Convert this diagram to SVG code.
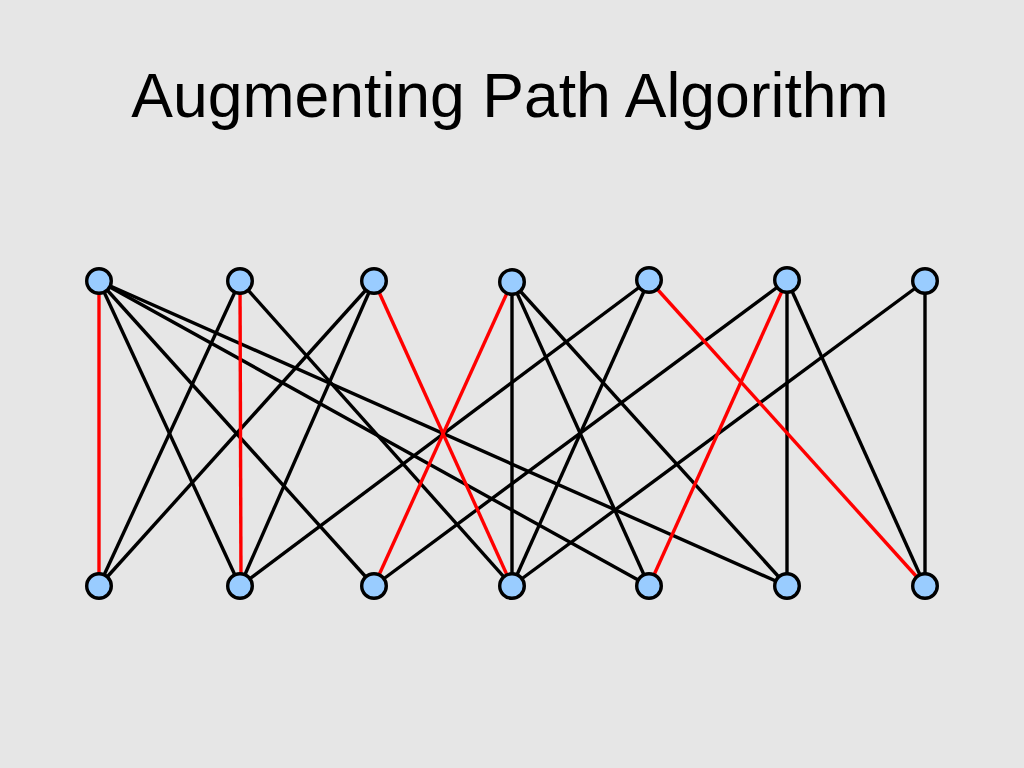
<svg xmlns="http://www.w3.org/2000/svg" width="1024" height="768" viewBox="0 0 1024 768">
<style>
.title{font-family:"Liberation Sans",Arial,sans-serif;font-size:62.5px;fill:#000}
.e{stroke:#000;stroke-width:3.4;fill:none}
.m{stroke:#ff0000;stroke-width:3.4;fill:none}
.n{fill:#99ccff;stroke:#000;stroke-width:3.4}
</style>
<rect width="1024" height="768" fill="#e6e6e6"/>
<text class="title" x="510" y="117" text-anchor="middle">Augmenting Path Algorithm</text>
<g id="edges">
<line class="e" x1="99" y1="281" x2="240" y2="586"/>
<line class="e" x1="99" y1="281" x2="374" y2="586"/>
<line class="e" x1="99" y1="281" x2="649" y2="586"/>
<line class="e" x1="99" y1="281" x2="787" y2="586"/>
<line class="e" x1="240" y1="281" x2="99" y2="586"/>
<line class="e" x1="240" y1="281" x2="512" y2="586"/>
<line class="e" x1="374" y1="281" x2="99" y2="586"/>
<line class="e" x1="374" y1="281" x2="240" y2="586"/>
<line class="e" x1="512" y1="282" x2="512" y2="586"/>
<line class="e" x1="512" y1="282" x2="649" y2="586"/>
<line class="e" x1="512" y1="282" x2="787" y2="586"/>
<line class="e" x1="649" y1="280" x2="240" y2="586"/>
<line class="e" x1="649" y1="280" x2="512" y2="586"/>
<line class="e" x1="787" y1="280" x2="374" y2="586"/>
<line class="e" x1="787" y1="280" x2="787" y2="586"/>
<line class="e" x1="787" y1="280" x2="925" y2="586"/>
<line class="e" x1="925" y1="281" x2="512" y2="586"/>
<line class="e" x1="925" y1="281" x2="925" y2="586"/>
<line class="m" x1="99" y1="281" x2="99" y2="586"/>
<line class="m" x1="240" y1="281" x2="241" y2="586"/>
<line class="m" x1="374" y1="281" x2="512" y2="586"/>
<line class="m" x1="512" y1="282" x2="374" y2="586"/>
<line class="m" x1="649" y1="280" x2="925" y2="586"/>
<line class="m" x1="787" y1="280" x2="649" y2="586"/>
</g>
<g id="t1"><circle class="n" cx="99" cy="281" r="12.3"/></g>
<g id="t2"><circle class="n" cx="240" cy="281" r="12.3"/></g>
<g id="t3"><circle class="n" cx="374" cy="281" r="12.3"/></g>
<g id="t4"><circle class="n" cx="512" cy="282" r="12.3"/></g>
<g id="t5"><circle class="n" cx="649" cy="280" r="12.3"/></g>
<g id="t6"><circle class="n" cx="787" cy="280" r="12.3"/></g>
<g id="t7"><circle class="n" cx="925" cy="281" r="12.3"/></g>
<g id="b1"><circle class="n" cx="99" cy="586" r="12.3"/></g>
<g id="b2"><circle class="n" cx="240" cy="586" r="12.3"/></g>
<g id="b3"><circle class="n" cx="374" cy="586" r="12.3"/></g>
<g id="b4"><circle class="n" cx="512" cy="586" r="12.3"/></g>
<g id="b5"><circle class="n" cx="649" cy="586" r="12.3"/></g>
<g id="b6"><circle class="n" cx="787" cy="586" r="12.3"/></g>
<g id="b7"><circle class="n" cx="925" cy="586" r="12.3"/></g>
</svg>
